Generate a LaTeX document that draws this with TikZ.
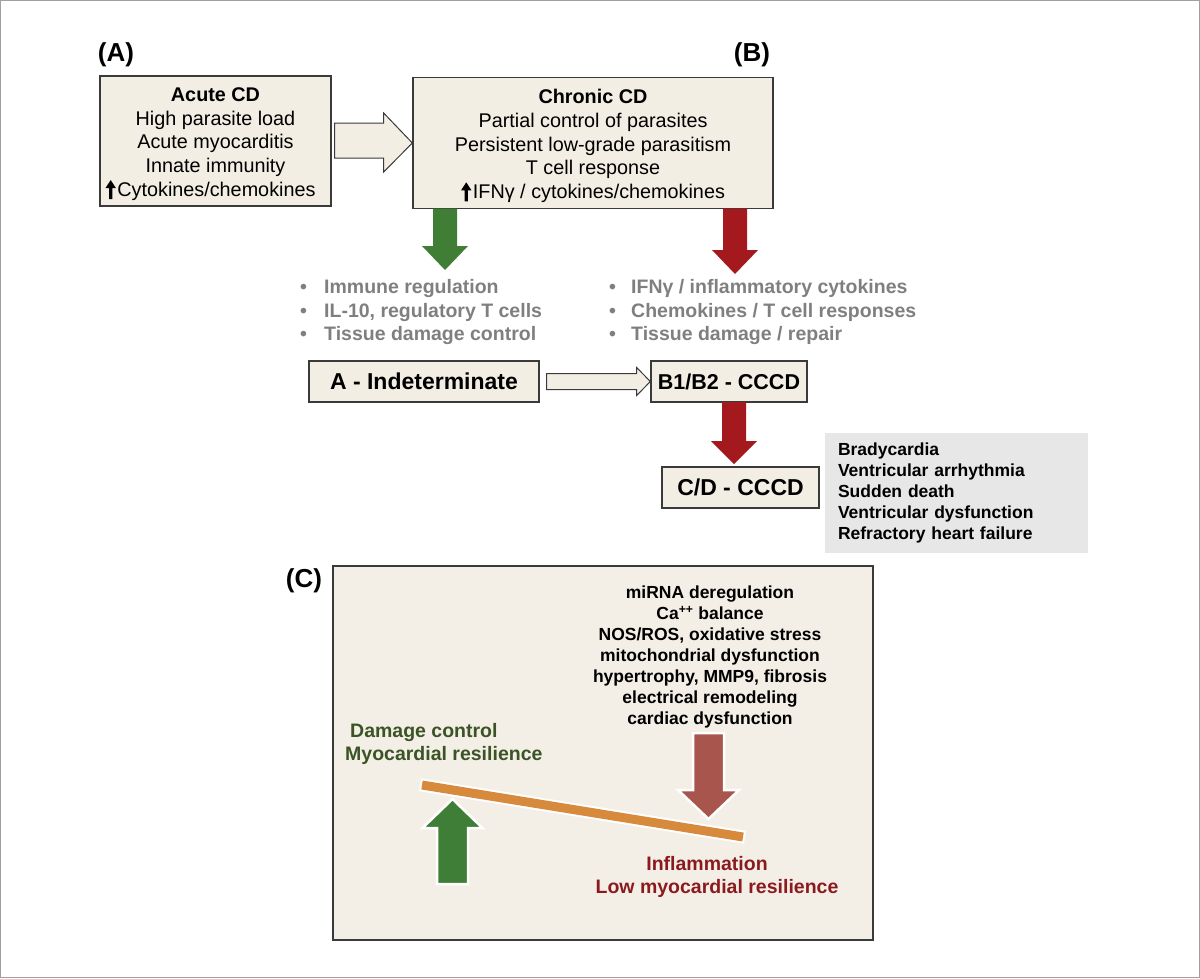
\documentclass[tikz,border=0pt]{standalone}
\usepackage{fontspec}
\setmainfont{Liberation Sans}
\usetikzlibrary{calc}
\definecolor{beige}{HTML}{F3EEE4}
\definecolor{beigeC}{HTML}{F4EFE6}
\definecolor{boxline}{HTML}{3A3A3A}
\definecolor{agreen}{HTML}{3F7E34}
\definecolor{ared}{HTML}{A3191E}
\definecolor{cgreen}{HTML}{3F7E36}
\definecolor{cred}{HTML}{A8564D}
\definecolor{beamcol}{HTML}{D88A3C}
\definecolor{dgreen}{HTML}{3B5426}
\definecolor{dred}{HTML}{8B1A1F}
\definecolor{bulgray}{HTML}{7F7F7F}
\definecolor{graybox}{HTML}{E7E7E7}
\definecolor{framecol}{HTML}{A0A0A0}
\newcommand{\bxf}{\fontsize{19.8}{23.6}\selectfont}
\newcommand{\blf}{\fontsize{19.5}{23.5}\selectfont\bfseries}
\newcommand{\stf}{\fontsize{23}{26}\selectfont\bfseries}
\newcommand{\smf}{\fontsize{17.5}{21}\selectfont\bfseries}
\newcommand{\upblk}{\tikz[x=1pt,y=1pt,baseline=0pt]{\fill[black] (-1.7,-3) -- (1.7,-3) -- (1.7,8) -- (5.2,8) -- (0,16) -- (-5.2,8) -- (-1.7,8) -- cycle;}\hspace{1.5pt}}
\newcommand{\blockarrow}[7]{\filldraw[#1] (#2-#4,#3) -- (#2+#4,#3) -- (#2+#4,#5) -- (#2+#6,#5) -- (#2,#7) -- (#2-#6,#5) -- (#2-#4,#5) -- cycle;}
\begin{document}
\begin{tikzpicture}[x=1pt,y=-1pt,
  box/.style={draw=boxline, line width=1.3pt, fill=beige, inner sep=0pt, align=center},
  lbl/.style={font=\fontsize{26}{30}\selectfont\bfseries, inner sep=0pt},
  hollow/.style={draw=boxline, line width=1pt, fill=beige, line join=miter},
  bullets/.style={font=\blf, text=bulgray, align=left, inner sep=0pt, anchor=west}]
\useasboundingbox (0,0) rectangle (1200,978);
\draw[framecol, line width=1.2pt] (0.6,0.6) rectangle (1199.4,977.4);

% labels
\node[lbl] (labA) at (116,55) {(A)};
\node[lbl] (labB) at (752,55) {(B)};
\node[lbl] (labC) at (304,581) {(C)};

% panel A / B boxes
\node[box, minimum width=231pt, minimum height=130pt] (acute) at (215.5,141) {};
\node[font=\bxf, align=center, inner sep=0pt] (acutetxt) at (215.5,144)
  {\textbf{Acute CD}\\High parasite load\\Acute myocarditis\\Innate immunity\\\upblk Cytokines/chemokines\hspace*{10pt}};
\node[box, minimum width=360pt, minimum height=131pt] (chronic) at (593,143) {};
\node[font=\bxf, align=center, inner sep=0pt] (chronictxt) at (593,146)
  {\textbf{Chronic CD}\\Partial control of parasites\\Persistent low-grade parasitism\\T cell response\\\upblk IFNγ / cytokines/chemokines};

\draw[hollow] ($(acute.east)+(3,-18)$) -- ($(acute.east)+(52,-18)$) -- ($(acute.east)+(52,-28)$)
  -- (chronic.west) -- ($(acute.east)+(52,31)$) -- ($(acute.east)+(52,17)$) -- ($(acute.east)+(3,17)$) -- cycle;

% green and red arrows from chronic box
\blockarrow{fill=agreen, draw=none}{445}{208.5}{12}{246}{23}{270}
\blockarrow{fill=ared, draw=none}{735}{208.5}{12}{250}{23}{274}

% bullet lists
\node[bullets] (bulL) at (300,312) {\makebox[24pt][l]{•}Immune regulation\\\makebox[24pt][l]{•}IL-10, regulatory T cells\\\makebox[24pt][l]{•}Tissue damage control};
\node[bullets] (bulR) at (609,312) {\makebox[22pt][l]{•}IFNγ / inflammatory cytokines\\\makebox[22pt][l]{•}Chemokines / T cell responses\\\makebox[22pt][l]{•}Tissue damage / repair};

% stages
\node[box, minimum width=230pt, minimum height=41pt, font=\stf] (indet) at (424,381.5) {A - Indeterminate};
\node[box, minimum width=156pt, minimum height=41pt, font=\fontsize{21.5}{26}\selectfont\bfseries] (b12) at (729,381.5) {B1/B2 - CCCD};
\draw[hollow] ($(indet.east)+(7,-8)$) -- ($(indet.east)+(97,-8)$) -- ($(indet.east)+(97,-14)$)
  -- (b12.west) -- ($(indet.east)+(97,14)$) -- ($(indet.east)+(97,8)$) -- ($(indet.east)+(7,8)$) -- cycle;
\blockarrow{fill=ared, draw=none}{734}{402}{12}{441}{23}{464}
\node[box, minimum width=157pt, minimum height=41pt, font=\stf] (cd) at (740.5,487.5) {C/D - CCCD};

\node[fill=graybox, text width=237pt, inner xsep=13pt, inner ysep=0pt, minimum height=120pt, align=left, font=\smf] (sym) at (956.5,493)
  {Bradycardia\\Ventricular arrhythmia\\Sudden death\\Ventricular dysfunction\\Refractory heart failure};

% panel C
\node[draw=boxline, line width=1.5pt, fill=beigeC, minimum width=540pt, minimum height=374pt, inner sep=0pt] (panelC) at (603,753) {};
\node[font=\smf, align=center, inner sep=0pt] (mech) at (710,657)
  {miRNA deregulation\\Ca\textsuperscript{++} balance\\NOS/ROS, oxidative stress\\mitochondrial dysfunction\\hypertrophy, MMP9, fibrosis\\electrical remodeling\\cardiac dysfunction};

\node[font=\fontsize{19.5}{23}\selectfont\bfseries, text=dgreen, anchor=west, inner sep=0pt] (dc1) at (350,732) {Damage control};
\node[font=\fontsize{19.5}{23}\selectfont\bfseries, text=dgreen, anchor=west, inner sep=0pt] (dc2) at (345,755) {Myocardial resilience};

\draw[white, line width=13pt, shorten <=-2pt, shorten >=-2pt] (422,785) -- (743,837);
\draw[beamcol, line width=9pt] (422,785) -- (743,837);

\blockarrow{fill=cgreen, draw=white, line width=2.5pt, line join=miter}{452.5}{884}{15.5}{828}{30}{799}
\blockarrow{fill=cred, draw=white, line width=2.5pt, line join=miter}{708.5}{733}{15.5}{790}{30.5}{819}

\node[font=\fontsize{19.5}{23}\selectfont\bfseries, text=dred, inner sep=0pt] (inf1) at (707,864) {Inflammation};
\node[font=\fontsize{19.5}{23}\selectfont\bfseries, text=dred, inner sep=0pt] (inf2) at (717,888) {Low myocardial resilience};
\end{tikzpicture}
\end{document}
